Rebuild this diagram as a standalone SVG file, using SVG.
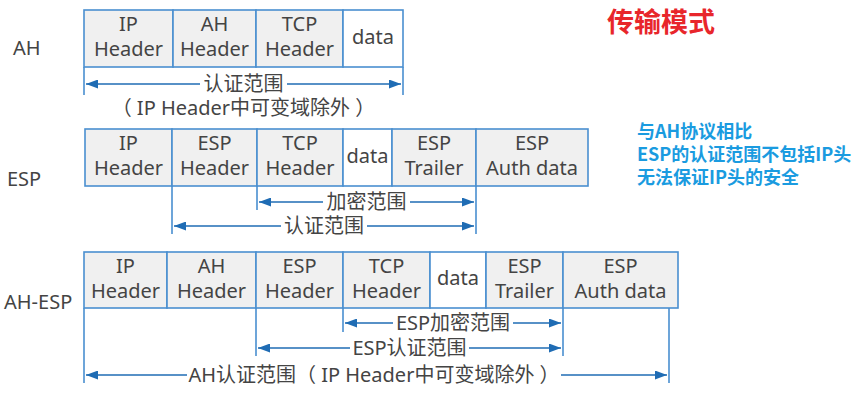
<svg xmlns="http://www.w3.org/2000/svg" width="865" height="400" viewBox="0 0 865 400">
<defs>
<marker id="ah" viewBox="0 0 12 9" refX="12" refY="4.5" markerWidth="12" markerHeight="9" markerUnits="userSpaceOnUse" orient="auto-start-reverse">
<path d="M0,0 L12,4.5 L0,9 Z" fill="#1f6cb4"/>
</marker>
</defs>
<style>
text{font-family:"Noto Sans","Noto Sans CJK SC",sans-serif;}
.cell{fill:#f0f0f0;stroke:#4a8fd0;stroke-width:1.6;}
.w{fill:#ffffff;stroke:#4a8fd0;stroke-width:1.6;}
.t{font-size:20px;fill:#444;text-anchor:middle;}
.lbl{font-size:20px;fill:#444;}
.ext{stroke:#4a8fd0;stroke-width:1.6;fill:none;}
.sl{stroke:#1f6cb4;stroke-width:1.6;fill:none;marker-start:url(#ah);}
.sr{stroke:#1f6cb4;stroke-width:1.6;fill:none;marker-end:url(#ah);}
.title{font-size:27px;font-weight:bold;fill:#e8262b;font-family:"Noto Sans CJK SC",sans-serif;}
.note{font-size:18px;font-weight:bold;fill:#1a9be0;font-family:"Noto Sans CJK SC",sans-serif;}
</style>

<g id="title"><text class="title" x="607" y="32">传输模式</text></g>
<g id="note">
<text class="note" x="637" y="138">与AH协议相比</text>
<text class="note" x="637" y="161">ESP的认证范围不包括IP头</text>
<text class="note" x="637" y="184">无法保证IP头的安全</text>
</g>

<!-- AH row -->
<g id="row-ah">
<text class="lbl" x="13" y="55">AH</text>
<g id="ah-ip"><rect class="cell" x="84" y="10" width="89" height="57"/><text class="t" x="128.5" y="31">IP</text><text class="t" x="128.5" y="56">Header</text></g>
<g id="ah-ah"><rect class="cell" x="173" y="10" width="83" height="57"/><text class="t" x="214.5" y="31">AH</text><text class="t" x="214.5" y="56">Header</text></g>
<g id="ah-tcp"><rect class="cell" x="256" y="10" width="87" height="57"/><text class="t" x="299.5" y="31">TCP</text><text class="t" x="299.5" y="56">Header</text></g>
<g id="ah-data"><rect class="w" x="343" y="10" width="60" height="57"/><text class="t" x="373" y="44">data</text></g>
</g>

<!-- ESP row -->
<g id="row-esp">
<text class="lbl" x="7" y="186">ESP</text>
<g id="esp-ip"><rect class="cell" x="85" y="129" width="87" height="57"/><text class="t" x="128.5" y="150">IP</text><text class="t" x="128.5" y="175">Header</text></g>
<g id="esp-esph"><rect class="cell" x="172" y="129" width="85" height="57"/><text class="t" x="214.5" y="150">ESP</text><text class="t" x="214.5" y="175">Header</text></g>
<g id="esp-tcp"><rect class="cell" x="257" y="129" width="86" height="57"/><text class="t" x="300" y="150">TCP</text><text class="t" x="300" y="175">Header</text></g>
<g id="esp-data"><rect class="w" x="343" y="129" width="49" height="57"/><text class="t" x="367.5" y="163">data</text></g>
<g id="esp-trailer"><rect class="cell" x="392" y="129" width="84" height="57"/><text class="t" x="434" y="150">ESP</text><text class="t" x="434" y="175">Trailer</text></g>
<g id="esp-auth"><rect class="cell" x="476" y="129" width="112" height="57"/><text class="t" x="532" y="150">ESP</text><text class="t" x="532" y="175">Auth data</text></g>
</g>

<!-- AH-ESP row -->
<g id="row-ahesp">
<text class="lbl" x="4" y="309">AH-ESP</text>
<g id="ae-ip"><rect class="cell" x="84" y="252" width="83" height="56"/><text class="t" x="125.5" y="273">IP</text><text class="t" x="125.5" y="298">Header</text></g>
<g id="ae-ah"><rect class="cell" x="167" y="252" width="89" height="56"/><text class="t" x="211.5" y="273">AH</text><text class="t" x="211.5" y="298">Header</text></g>
<g id="ae-esph"><rect class="cell" x="256" y="252" width="87" height="56"/><text class="t" x="299.5" y="273">ESP</text><text class="t" x="299.5" y="298">Header</text></g>
<g id="ae-tcp"><rect class="cell" x="343" y="252" width="87" height="56"/><text class="t" x="386.5" y="273">TCP</text><text class="t" x="386.5" y="298">Header</text></g>
<g id="ae-data"><rect class="w" x="430" y="252" width="56" height="56"/><text class="t" x="458" y="285">data</text></g>
<g id="ae-trailer"><rect class="cell" x="486" y="252" width="77" height="56"/><text class="t" x="524.5" y="273">ESP</text><text class="t" x="524.5" y="298">Trailer</text></g>
<g id="ae-auth"><rect class="cell" x="563" y="252" width="115" height="56"/><text class="t" x="620.5" y="273">ESP</text><text class="t" x="620.5" y="298">Auth data</text></g>
</g>

<g id="connectors">
<!-- AH -->
<path class="ext" d="M84,67 V95 M403,67 V95"/>
<line class="sl" x1="86" y1="84" x2="200" y2="84"/>
<line class="sr" x1="287" y1="84" x2="401" y2="84"/>
<text class="t" x="243.5" y="91">认证范围</text>
<text class="t" x="243.5" y="115">（ IP Header中可变域除外 ）</text>
<!-- ESP -->
<path class="ext" d="M257,186 V210 M172,186 V234 M476,186 V234"/>
<line class="sl" x1="259" y1="202" x2="323" y2="202"/>
<line class="sr" x1="410" y1="202" x2="474" y2="202"/>
<text class="t" x="366.5" y="209">加密范围</text>
<line class="sl" x1="174" y1="226" x2="281" y2="226"/>
<line class="sr" x1="367" y1="226" x2="474" y2="226"/>
<text class="t" x="324" y="233">认证范围</text>
<!-- AH-ESP -->
<path class="ext" d="M343,308 V332 M256,308 V356 M563,308 V356 M84,308 V383 M669,308 V383"/>
<line class="sl" x1="345" y1="323" x2="393" y2="323"/>
<line class="sr" x1="513" y1="323" x2="561" y2="323"/>
<text class="t" x="453" y="330">ESP加密范围</text>
<line class="sl" x1="258" y1="348" x2="350" y2="348"/>
<line class="sr" x1="469" y1="348" x2="561" y2="348"/>
<text class="t" x="409.5" y="355">ESP认证范围</text>
<line class="sl" x1="86" y1="375" x2="187" y2="375"/>
<line class="sr" x1="561" y1="375" x2="667" y2="375"/>
<text class="t" x="374" y="382">AH认证范围（ IP Header中可变域除外 ）</text>
</g>
</svg>
